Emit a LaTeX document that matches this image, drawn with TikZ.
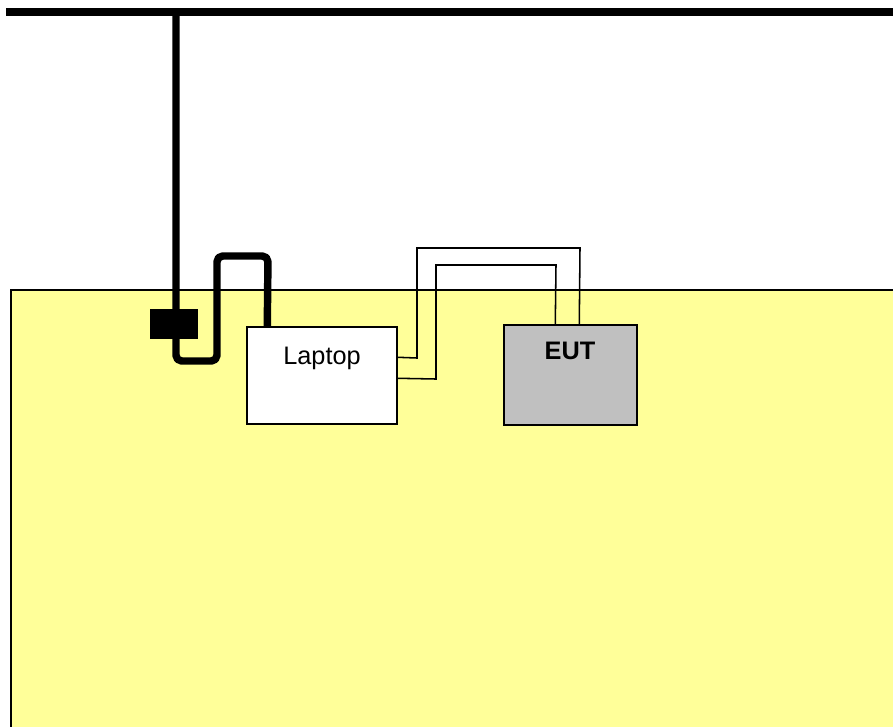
\documentclass[tikz,border=0pt]{standalone}
\usepackage{fontspec}
\setmainfont{Liberation Sans}
\usetikzlibrary{calc,positioning}
\definecolor{benchyellow}{HTML}{FFFF99}
\definecolor{eutgray}{HTML}{C0C0C0}
\begin{document}
\begin{tikzpicture}[x=0.025cm, y=-0.025cm,
  box node/.style={rectangle,draw,line width=1pt,inner sep=0pt},
  box text/.style={anchor=base,inner sep=0pt,font=\fontsize{18}{20}\selectfont},
  thin cable/.style={line width=1.1pt},
  thick cable/.style={line width=5.3pt,rounded corners=4pt,line join=round}]
\useasboundingbox (0,0) rectangle (893,726);
\begin{scope}
\clip (0,0) rectangle (893,726);
% table
\fill[benchyellow] (11,290) rectangle (910,740);
\draw[line width=1pt] (11,740) -- (11,290) -- (910,290);
% ground bar
\coordinate (barl) at (6,12);
\coordinate (barr) at (910,12);
\coordinate (tap) at (176,12);
\draw[line width=5.8pt] (barl) -- (barr);
\end{scope}
\node[box node,fill=white,minimum width=3.75cm,minimum height=2.425cm] (laptop) at (322,375.5) {};
\node[box node,fill=eutgray,minimum width=3.325cm,minimum height=2.5cm] (eut) at (570.5,375) {};
\node[box text] (laptoplabel) at (322,364) {Laptop};
\node[box text,font=\fontsize{18}{20}\selectfont\bfseries] (eutlabel) at (570,359) {EUT};
% power cable
\draw[thick cable] (tap) -- (176,361) -- (217,361) -- (217,256) -- (268,256) -- ($(laptop.north west)+(21,0)$);
\node[fill=black,minimum width=1.2cm,minimum height=0.75cm,inner sep=0pt] (ferrite) at (174,324) {};
% data cables
\draw[thin cable] ($(laptop.north east)+(0,31)$) -- (417,358) -- (417,248) -- (580,248) -- ($(eut.north west)+(76,0)$);
\draw[thin cable] ($(laptop.north east)+(0,52)$) -- (436,379) -- (436,265) -- (556,265) -- ($(eut.north west)+(52,0)$);
\end{tikzpicture}
\end{document}
